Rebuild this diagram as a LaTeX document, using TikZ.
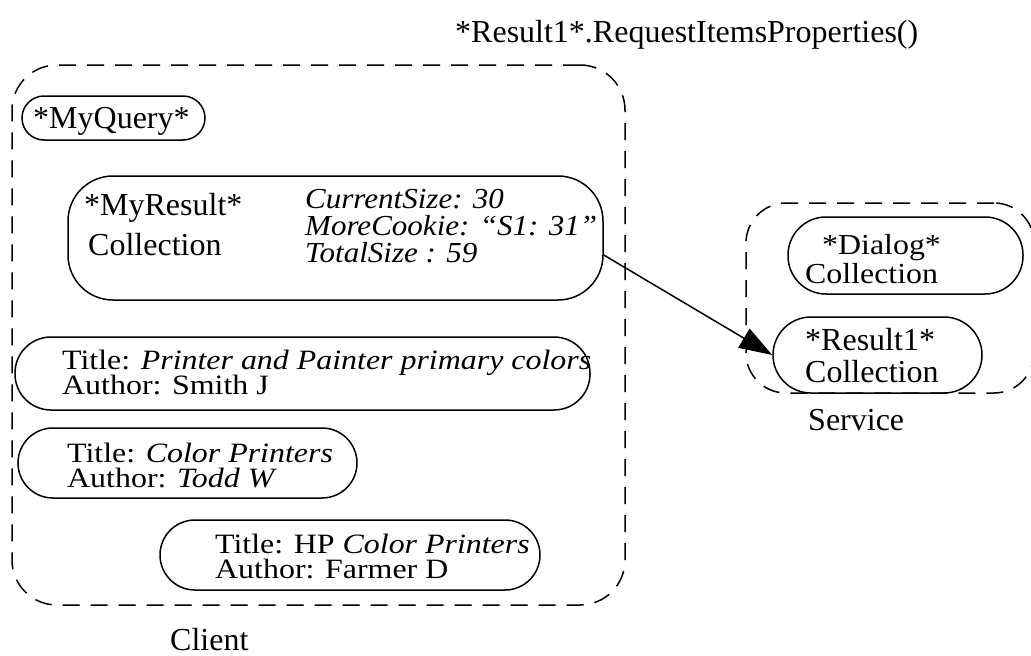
\documentclass[tikz,border=0pt]{standalone}
\usepackage{graphicx}
\usepackage{fontspec}
\setmainfont{Liberation Serif}
\usetikzlibrary{arrows.meta}
% two lines set at a fixed baseline distance, slightly condensed in height;
% the box's baseline is the first line's
\newcommand\linepair[3]{\vtop{\baselineskip=#1\lineskiplimit=-100pt\lineskip=0pt
  \hbox{\scalebox{1.14}[1]{#2}}\hbox{\scalebox{1.14}[1]{#3}}}}
% a horizontally widened line of text
\newcommand\widened[2]{\scalebox{#1}[1]{#2}}
\tikzset{
  pill/.style={draw, line width=1.5pt, rounded corners=#1, inner sep=0pt},
  pill/.default=35pt,
  group/.style={draw, line width=1.5pt, rounded corners=45pt,
    dash pattern=on 17pt off 11pt, inner sep=0pt},
  txt/.style={anchor=base west, inner sep=0pt, font=\fontsize{32}{32}\selectfont},
  it/.style={txt, font=\fontsize{29}{29}\selectfont\itshape},
  item/.style={txt, font=\fontsize{28}{28}\selectfont},
  svc/.style={txt, font=\fontsize{29}{29}\selectfont},
  link/.style={line width=1.5pt, -{Triangle[length=33pt, width=22pt]}}
}
\begin{document}
\begin{tikzpicture}[x=1pt, y=-1pt]
\useasboundingbox (0,0) rectangle (1031,656);

% header call
\node[txt] (call) at (455,42) {*Result1*.RequestItemsProperties()};

% client side
\node[group, minimum width=613pt, minimum height=540pt] (client) at (318.5,335) {};
\node[txt] (clientlbl) at (170,650) {Client};

\node[pill=22pt, minimum width=183pt, minimum height=44pt] (query) at (113.5,118) {};
\node[txt] at (33,128) {*MyQuery*};

\node[pill=45pt, minimum width=535pt, minimum height=124pt] (result) at (335.5,238) {};
\node[txt] at (84,215) {*MyResult*};
\node[txt] at (88,255) {Collection};
\node[it] at (305,208) {\vtop{\baselineskip=27pt\lineskiplimit=-100pt\lineskip=0pt
  \hbox{\widened{1.07}{CurrentSize: 30}}\hbox{\widened{1.07}{MoreCookie: “S1: 31”}}%
  \hbox{\widened{1.07}{TotalSize : 59}}}};

\node[pill=36pt, minimum width=575pt, minimum height=73pt] (item1) at (302.5,373.5) {};
\node[item] at (62,369) {\linepair{25pt}{Title: \textit{Printer and Painter primary colors}}{Author: Smith J}};

\node[pill=35pt, minimum width=339pt, minimum height=70pt] (item2) at (187.5,463) {};
\node[item] at (67,462) {\linepair{25pt}{Title: \textit{Color Printers}}{Author: \textit{Todd W}}};

\node[pill=35pt, minimum width=380pt, minimum height=70pt] (item3) at (350,555) {};
\node[item] at (215,553) {\linepair{25pt}{Title: HP \textit{Color Printers}}{Author: Farmer D}};

% service side
\node[group, rounded corners=40pt, minimum width=288pt, minimum height=190pt] (service) at (890,298) {};
\node[txt] (servicelbl) at (808,430) {Service};

\node[pill=38pt, minimum width=235pt, minimum height=77pt] (dialog) at (905.5,255.5) {};
\node[svc] at (822,254) {\widened{1.1}{*Dialog*}};
\node[svc] at (805,283) {\widened{1.1}{Collection}};

\node[pill=38pt, minimum width=209pt, minimum height=76pt] (result1) at (877.5,355) {};
\node[txt] at (805,350) {*Result1*};
\node[txt] at (805,382) {Collection};

% request link
\draw[link] ([yshift=-17pt]result.east) -- (result1.west);
\end{tikzpicture}
\end{document}
